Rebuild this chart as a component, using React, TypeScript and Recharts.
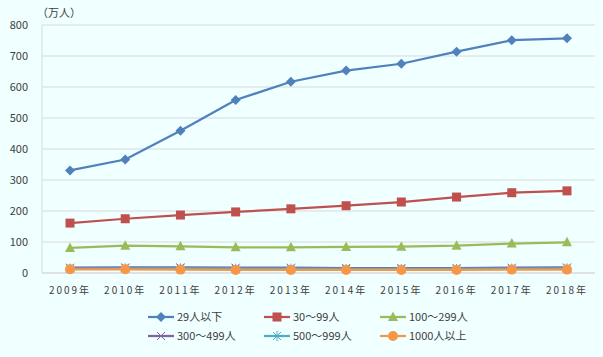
import React from 'react'
import { CartesianGrid, Line, LineChart, XAxis, YAxis } from 'recharts'

const years = ['2009年', '2010年', '2011年', '2012年', '2013年', '2014年', '2015年', '2016年', '2017年', '2018年']
const under29 = [331, 366, 459, 558, 617, 653, 675, 714, 751, 757]
const s30to99 = [161, 175, 187, 197, 207, 217, 229, 245, 259, 265]
const s100to299 = [81, 88, 86, 83, 83, 84, 85, 88, 95, 99]
const s300to499 = [17, 18, 18, 17, 17, 16, 16, 16, 17, 18]
const s500to999 = [14, 15, 15, 14, 14, 13, 13, 13, 14, 15]
const s1000plus = [12, 12, 11, 10, 10, 10, 10, 10, 11, 11]
const yTicks = [0, 100, 200, 300, 400, 500, 600, 700, 800]

const data = years.map((year, i) => ({
  year,
  a: under29[i],
  b: s30to99[i],
  c: s100to299[i],
  d: s300to499[i],
  e: s500to999[i],
  f: s1000plus[i],
}))

const FONT = '"Noto Sans CJK JP", "Noto Sans", sans-serif'
const TEXT = '#404040'

type Pt = { cx?: number; cy?: number }

function Diamond({ cx = 0, cy = 0 }: Pt) {
  return <path d={`M${cx},${cy - 5}L${cx + 5},${cy}L${cx},${cy + 5}L${cx - 5},${cy}Z`} fill="#4F81BD" />
}
function Square({ cx = 0, cy = 0 }: Pt) {
  return <rect x={cx - 4.5} y={cy - 4.5} width={9} height={9} fill="#C0504D" />
}
function Triangle({ cx = 0, cy = 0 }: Pt) {
  return <path d={`M${cx},${cy - 5.5}L${cx + 5},${cy + 4}L${cx - 5},${cy + 4}Z`} fill="#9BBB59" />
}
function Cross({ cx = 0, cy = 0 }: Pt) {
  return (
    <path
      d={`M${cx - 4},${cy - 4}L${cx + 4},${cy + 4}M${cx + 4},${cy - 4}L${cx - 4},${cy + 4}`}
      stroke="#8064A2"
      strokeWidth={1}
      fill="none"
    />
  )
}
function Star({ cx = 0, cy = 0 }: Pt) {
  return (
    <path
      d={`M${cx - 4},${cy - 4}L${cx + 4},${cy + 4}M${cx + 4},${cy - 4}L${cx - 4},${cy + 4}M${cx},${cy - 5}L${cx},${cy + 5}`}
      stroke="#4BACC6"
      strokeWidth={1}
      fill="none"
    />
  )
}
function Circle({ cx = 0, cy = 0 }: Pt) {
  return <circle cx={cx} cy={cy} r={5} fill="#F79646" />
}

const series = [
  { key: 'a', name: '29人以下', color: '#4F81BD', Dot: Diamond },
  { key: 'b', name: '30～99人', color: '#C0504D', Dot: Square },
  { key: 'c', name: '100～299人', color: '#9BBB59', Dot: Triangle },
  { key: 'd', name: '300～499人', color: '#8064A2', Dot: Cross },
  { key: 'e', name: '500～999人', color: '#4BACC6', Dot: Star },
  { key: 'f', name: '1000人以上', color: '#F79646', Dot: Circle },
]

function LegendBox() {
  const cols = [148, 264, 380]
  const rows = [317, 336]
  return (
    <svg width={603} height={357} style={{ position: 'absolute', left: 0, top: 0, pointerEvents: 'none' }}>
      {series.map((s, i) => {
        const x = cols[i % 3]
        const y = rows[Math.floor(i / 3)]
        const D = s.Dot
        return (
          <g key={s.key}>
            <line x1={x} x2={x + 26} y1={y} y2={y} stroke={s.color} strokeWidth={2.25} />
            <D cx={x + 13} cy={y} />
            <text x={x + 29} y={y + 4} fontSize={11} fill={TEXT} fontFamily={FONT}>
              {s.name}
            </text>
          </g>
        )
      })}
    </svg>
  )
}

export default function App() {
  return (
    <div style={{ position: 'absolute', left: 0, top: 0, width: 603, height: 357, background: '#F0FFFF', fontFamily: FONT }}>
      <LineChart width={603} height={357} data={data} margin={{ top: 25, right: 8, bottom: 64, left: 0 }}>
        <CartesianGrid vertical={false} stroke="#D9D9D9" />
        <XAxis
          dataKey="year"
          axisLine={{ stroke: '#D9D9D9' }}
          tickLine={false}
          height={20}
          tickMargin={8}
          padding={{ left: 28, right: 28 }}
          tick={{ fontSize: 10, fill: TEXT, fontFamily: FONT, letterSpacing: 2 }}
          interval={0}
        />
        <YAxis
          domain={[0, 800]}
          ticks={yTicks}
          width={42}
          axisLine={{ stroke: '#D9D9D9' }}
          tickLine={false}
          tickMargin={8}
          tick={{ fontSize: 11, fill: TEXT, fontFamily: FONT }}
        />
        {series.map(s => (
          <Line
            key={s.key}
            dataKey={s.key}
            name={s.name}
            stroke={s.color}
            strokeWidth={2.25}
            dot={<s.Dot />}
            activeDot={false}
            isAnimationActive={false}
          />
        ))}
        <text x={37} y={17} fontSize={11} fill={TEXT} fontFamily={FONT}>
          （万人）
        </text>
      </LineChart>
      <LegendBox />
    </div>
  )
}
